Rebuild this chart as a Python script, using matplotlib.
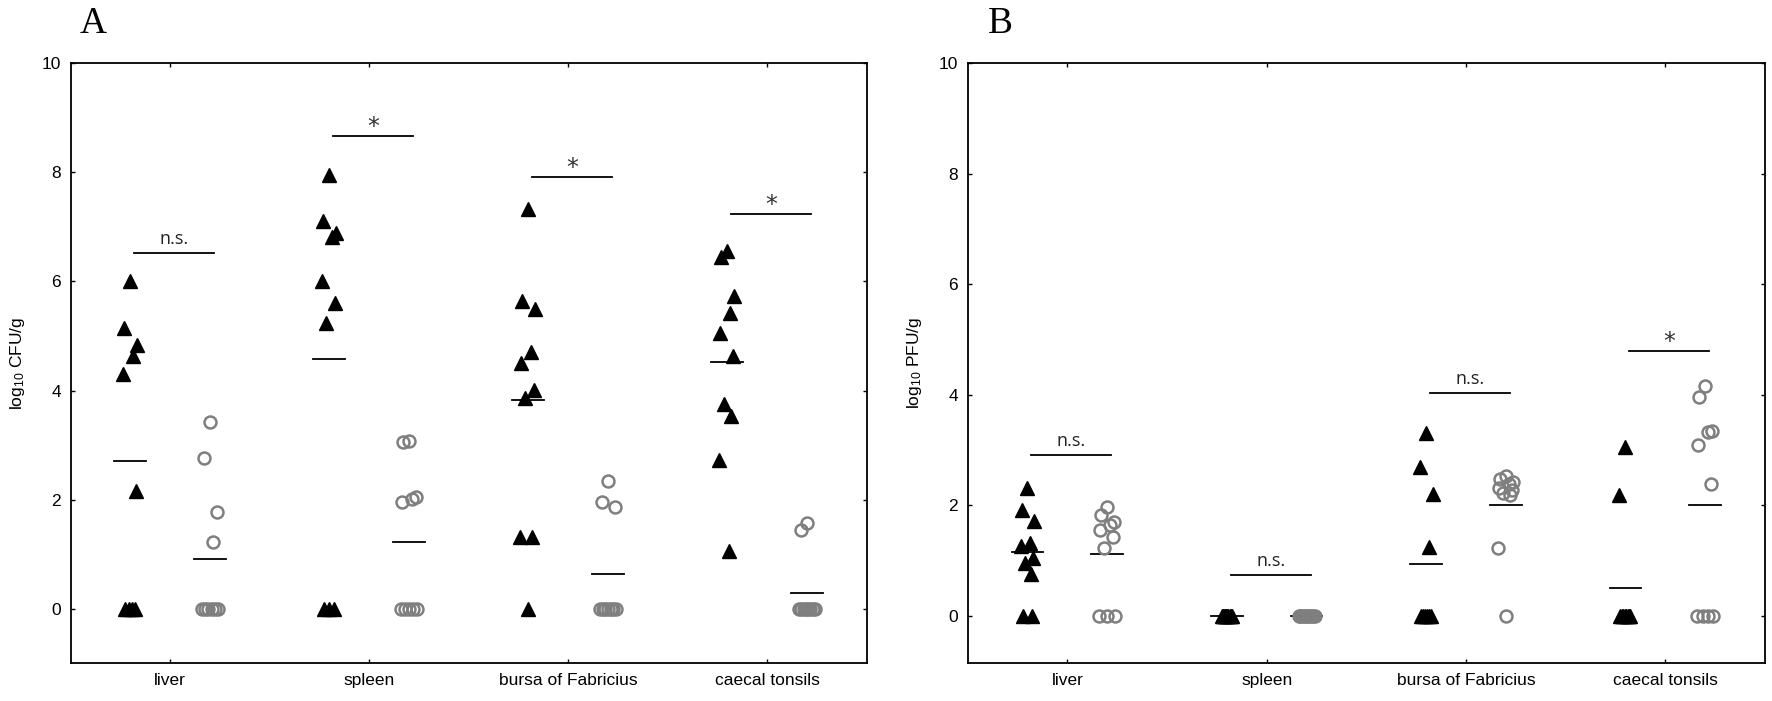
import numpy as np
import matplotlib
matplotlib.use("Agg")
import matplotlib.pyplot as plt

plt.rcParams['font.family'] = ['Liberation Sans', 'DejaVu Sans']
plt.rcParams['mathtext.default'] = 'regular'

# ---------------- data ----------------
categories = ["liver", "spleen", "bursa of Fabricius", "caecal tonsils"]

# Panel A: log10 CFU/g  (triangles = group 1, circles = group 2)
cfu_tri_liver = [6.0, 5.15, 4.83, 4.63, 4.3, 2.15, 0, 0, 0, 0]
cfu_circ_liver = [3.43, 2.76, 1.78, 1.23, 0, 0, 0, 0, 0, 0]
cfu_tri_spleen = [7.95, 7.1, 6.89, 6.82, 6.0, 5.6, 5.24, 0, 0, 0]
cfu_circ_spleen = [3.07, 3.05, 2.04, 2.02, 1.96, 0, 0, 0, 0, 0]
cfu_tri_bursa = [7.33, 5.65, 5.5, 4.71, 4.51, 4.01, 3.86, 1.31, 1.31, 0]
cfu_circ_bursa = [2.35, 1.96, 1.86, 0, 0, 0, 0, 0, 0, 0]
cfu_tri_caecal = [6.55, 6.45, 5.73, 5.43, 5.05, 4.63, 3.75, 3.54, 2.73, 1.05]
cfu_circ_caecal = [1.58, 1.44, 0, 0, 0, 0, 0, 0, 0, 0]
cfu_tri_means = [2.71, 4.57, 3.82, 4.52]
cfu_circ_means = [0.91, 1.22, 0.63, 0.29]
cfu_sig_heights = [6.52, 8.66, 7.91, 7.23]
cfu_sig_labels = ["n.s.", "*", "*", "*"]

# Panel B: log10 PFU/g
pfu_tri_liver = [2.32, 1.92, 1.72, 1.32, 1.26, 1.04, 0.95, 0.75, 0, 0]
pfu_circ_liver = [1.97, 1.83, 1.69, 1.65, 1.55, 1.42, 1.22, 0, 0, 0]
pfu_tri_spleen = [0, 0, 0, 0, 0, 0, 0, 0, 0, 0]
pfu_circ_spleen = [0, 0, 0, 0, 0, 0, 0, 0, 0, 0]
pfu_tri_bursa = [3.3, 2.7, 2.21, 1.24, 0, 0, 0, 0, 0, 0]
pfu_circ_bursa = [2.52, 2.48, 2.42, 2.38, 2.32, 2.28, 2.22, 2.18, 1.22, 0]
pfu_tri_caecal = [3.06, 2.18, 0, 0, 0, 0, 0, 0, 0, 0]
pfu_circ_caecal = [4.15, 3.96, 3.35, 3.33, 3.09, 2.38, 0, 0, 0, 0]
pfu_tri_means = [1.15, 0.0, 0.94, 0.50]
pfu_circ_means = [1.12, 0.0, 2.01, 2.01]
pfu_sig_heights = [2.91, 0.73, 4.03, 4.79]
pfu_sig_labels = ["n.s.", "n.s.", "n.s.", "*"]

yticks = [0, 2, 4, 6, 8, 10]

# ---------------- styling / layout ----------------
W, H = 1772, 701
fig = plt.figure(figsize=(W / 100, H / 100), dpi=100)

axA = fig.add_axes([70.7 / W, 1 - 663.3 / H, 796 / W, 600 / H])
axB = fig.add_axes([967.7 / W, 1 - 663.3 / H, 797.3 / W, 600 / H])

JIT = [0.0, -0.03, 0.035, 0.015, -0.035, 0.03, -0.015, 0.02, -0.04, 0.01]
CIRC_COLOR = '#7f7f7f'


def spread_positions(vals, center, zero_spread):
    xs = []
    nz_i = 0
    nzero = sum(1 for v in vals if v == 0)
    zoffs = list(np.linspace(-zero_spread / 2, zero_spread / 2, nzero)) if nzero > 1 else [0.0] * nzero
    zi = 0
    for v in vals:
        if v == 0:
            xs.append(center + zoffs[zi])
            zi += 1
        else:
            xs.append(center + JIT[nz_i % len(JIT)])
            nz_i += 1
    return xs


def draw_panel(ax, tri_groups, circ_groups, tri_means, circ_means,
               sig_h, sig_lab, ylim, ylabel):
    for i, (tv, cv) in enumerate(zip(tri_groups, circ_groups)):
        ct, cc = i - 0.2, i + 0.2
        # mean lines
        ax.plot([ct - 0.08, ct + 0.08], [tri_means[i]] * 2, color='black', lw=1.3, zorder=2)
        ax.plot([cc - 0.08, cc + 0.08], [circ_means[i]] * 2, color='black', lw=1.3, zorder=2)
        # points
        ax.plot(spread_positions(tv, ct, 0.05), tv, linestyle='none', marker='^',
                ms=10.5, color='black', mec='black', zorder=3)
        ax.plot(spread_positions(cv, cc, 0.08), cv, linestyle='none', marker='o',
                ms=8.6, mfc='none', mec=CIRC_COLOR, mew=1.8, zorder=3)
        # significance bar
        ax.plot([i - 0.18, i + 0.22], [sig_h[i]] * 2, color='black', lw=1.3, zorder=2)
        if sig_lab[i] == '*':
            ax.annotate('*', xy=(i + 0.02, sig_h[i]), xytext=(0, 1.5),
                        textcoords='offset points', ha='center', va='baseline',
                        fontsize=17, color='#333333', family=['DejaVu Sans'])
        else:
            ax.annotate(sig_lab[i], xy=(i + 0.02, sig_h[i]), xytext=(0, 6.5),
                        textcoords='offset points', ha='center', va='baseline',
                        fontsize=13, color='#222222', family=['Open Sans', 'DejaVu Sans'])

    ax.set_xlim(-0.5, 3.5)
    ax.set_ylim(*ylim)
    ax.set_xticks(range(len(categories)))
    ax.set_xticklabels(categories)
    ax.set_yticks(yticks)
    ax.tick_params(axis='both', direction='in', length=3.2, width=1.0,
                   top=True, right=True, labelsize=12.5, pad=7, colors='black')
    for s in ax.spines.values():
        s.set_linewidth(1.3)
    ax.set_ylabel(ylabel, fontsize=12.5, va='center')
    ax.yaxis.set_label_coords(-53 / 796, 0.5)


draw_panel(axA,
           [cfu_tri_liver, cfu_tri_spleen, cfu_tri_bursa, cfu_tri_caecal],
           [cfu_circ_liver, cfu_circ_spleen, cfu_circ_bursa, cfu_circ_caecal],
           cfu_tri_means, cfu_circ_means, cfu_sig_heights, cfu_sig_labels,
           (-1.0, 10.0), r'log$_{10}$ CFU/g')

draw_panel(axB,
           [pfu_tri_liver, pfu_tri_spleen, pfu_tri_bursa, pfu_tri_caecal],
           [pfu_circ_liver, pfu_circ_spleen, pfu_circ_bursa, pfu_circ_caecal],
           pfu_tri_means, pfu_circ_means, pfu_sig_heights, pfu_sig_labels,
           (-0.862, 10.0), r'log$_{10}$ PFU/g')

fig.text(79.5 / W, 1 - 33 / H, 'A', family=['Liberation Serif'], fontsize=27,
         ha='left', va='baseline')
fig.text(987.5 / W, 1 - 33 / H, 'B', family=['Liberation Serif'], fontsize=27,
         ha='left', va='baseline')

fig.savefig('out.png', dpi=100)
